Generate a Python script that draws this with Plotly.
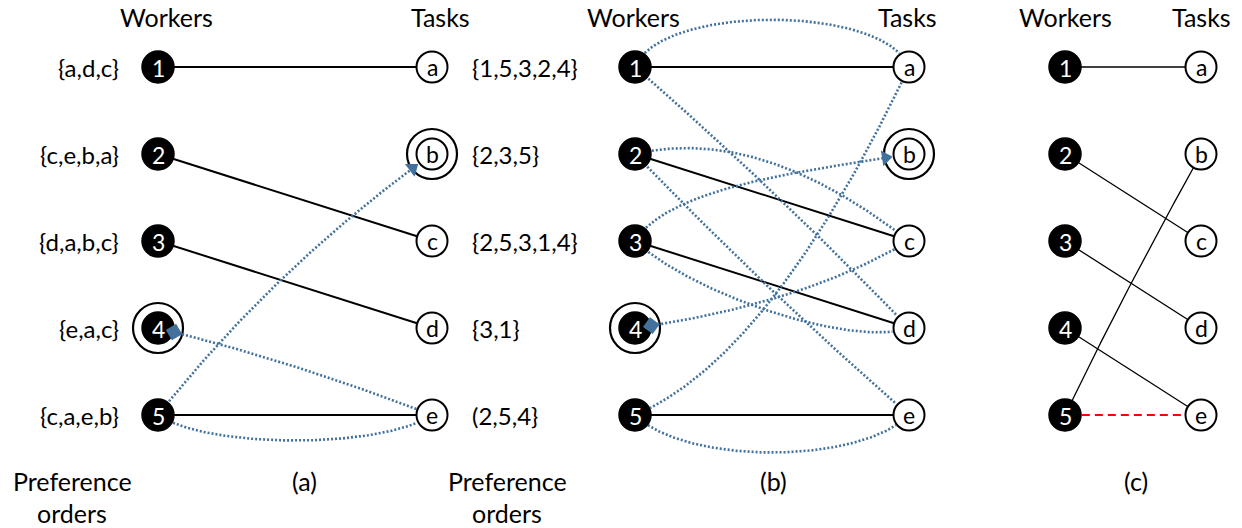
import numpy as np
import plotly.graph_objects as go

# ---------------- data ----------------
workers = ['1', '2', '3', '4', '5']
tasks = ['a', 'b', 'c', 'd', 'e']
worker_prefs = ['{a,d,c}', '{c,e,b,a}', '{d,a,b,c}', '{e,a,c}', '{c,a,e,b}']
task_prefs = ['{1,5,3,2,4}', '{2,3,5}', '{2,5,3,1,4}', '{3,1}', '(2,5,4}']
panel_labels = ['(a)', '(b)', '(c)']
header_workers = 'Workers'
header_tasks = 'Tasks'
pref_label_1 = 'Preference'
pref_label_2 = 'orders'

matching_a = [('1', 'a'), ('2', 'c'), ('3', 'd'), ('5', 'e')]
matching_b = [('1', 'a'), ('2', 'c'), ('3', 'd'), ('5', 'e')]
matching_c = [('1', 'a'), ('2', 'c'), ('3', 'd'), ('4', 'e'), ('5', 'b')]
unstable_c = [('5', 'e')]

# dotted (alternating) edges: (from, to, end marker)
dotted_a = [('5', 'b', 'arrow'), ('e', '4', 'diamond'), ('5', 'e', None)]
dotted_b = [('1', 'a', None), ('1', 'd', None), ('2', 'c', None), ('2', 'e', None),
            ('a', '5', None), ('3', 'b', 'arrow'), ('3', 'd', None),
            ('c', '4', 'diamond'), ('5', 'e', None)]
ringed_workers = ['4']
ringed_tasks = ['b']

# ---------------- geometry / style ----------------
W, H = 1242, 528
worker_x = [158, 635, 1065]
task_x = [432, 909, 1201]
row_y0, row_dy = 67, 87
R = 16.5
FONT = 'Lato'
BLUE = '#41719C'

def pos(panel, node):
    if node in workers:
        return np.array([worker_x[panel], row_y0 + row_dy * workers.index(node)], float)
    return np.array([task_x[panel], row_y0 + row_dy * tasks.index(node)], float)

# curve shapes: ('q', mid-offset) or ('c', offset from start, offset from end)
dotted_curves = {
    (0, '5', 'b'): ('q', (-20, -17)),
    (0, 'e', '4'): ('q', (-1, -10)),
    (0, '5', 'e'): ('c', (50, 34), (-50, 34)),
    (1, '1', 'a'): ('c', (25, -63), (-25, -63)),
    (1, '1', 'd'): ('q', (6, -6)),
    (1, '2', 'c'): ('q', (-12, -73)),
    (1, '2', 'e'): ('q', (-6, 6)),
    (1, 'a', '5'): ('q', (-2, 118)),
    (1, '3', 'b'): ('c', (35, -56), (-94, 16)),
    (1, '3', 'd'): ('c', (60, 55), (-55, 20)),
    (1, 'c', '4'): ('q', (30, 20)),
    (1, '5', 'e'): ('c', (50, 50), (-50, 50)),
}
solid_curves = {
    (2, '5', 'b'): ('q', (-8, 6)),
}

def bezier(p0, p3, spec, n=300):
    t = np.linspace(0, 1, n)[:, None]
    if spec is None:
        return p0 + t * (p3 - p0)
    if spec[0] == 'q':
        q = (p0 + p3) / 2 + np.array(spec[1], float)
        return (1 - t) ** 2 * p0 + 2 * (1 - t) * t * q + t ** 2 * p3
    c1 = p0 + np.array(spec[1], float)
    c2 = p3 + np.array(spec[2], float)
    return ((1 - t) ** 3 * p0 + 3 * (1 - t) ** 2 * t * c1
            + 3 * (1 - t) * t ** 2 * c2 + t ** 3 * p3)

fig = go.Figure()

def add_line(pts, color, width, dash=None):
    fig.add_trace(go.Scatter(x=pts[:, 0], y=pts[:, 1], mode='lines',
                             line=dict(color=color, width=width, dash=dash),
                             hoverinfo='skip', showlegend=False))

def curve_pts(panel, a, b, table, r0=R, r1=R):
    p0, p3 = pos(panel, a), pos(panel, b)
    pts = bezier(p0, p3, table.get((panel, a, b)))
    d0 = np.hypot(*(pts - p0).T)
    d1 = np.hypot(*(pts - p3).T)
    return pts[(d0 >= r0) & (d1 >= r1)]

# rings (outer circles) first
for p in range(2):
    ring = [pos(p, n) for n in ringed_workers + ringed_tasks]
    fig.add_trace(go.Scatter(x=[q[0] for q in ring], y=[q[1] for q in ring], mode='markers',
                             marker=dict(size=50, color='rgba(0,0,0,0)',
                                         line=dict(color='black', width=2.2)),
                             hoverinfo='skip', showlegend=False))

# solid matching edges
for p, match, lw in [(0, matching_a, 2), (1, matching_b, 2), (2, matching_c, 1.3)]:
    for a, b in match:
        add_line(curve_pts(p, a, b, solid_curves, 0, 0), 'black', lw)
for a, b in unstable_c:
    add_line(curve_pts(2, a, b, solid_curves, R, R), '#FF0000', 2, '8px,5px')

# dotted edges + end markers
ends = []
for p, edges in [(0, dotted_a), (1, dotted_b)]:
    for a, b, kind in edges:
        r1 = R + 1 if kind == 'arrow' else (R + 4 if kind == 'diamond' else R)
        pts = curve_pts(p, a, b, dotted_curves, R, r1)
        add_line(pts, BLUE, 2.6, '2px,2px')
        if kind:
            d = pts[-1] - pts[-8]
            d = d / np.hypot(*d)
            ang = np.degrees(np.arctan2(d[0], -d[1]))
            if kind == 'arrow':
                c = pts[-1] - d * 6
                ends.append((c, 'triangle-up', 14, ang))
            else:
                v = pts[-1] - pos(p, b)
                c = pos(p, b) + v / np.hypot(*v) * R
                ends.append((c, 'diamond', 13, ang))

# nodes
for p in range(3):
    wp = [pos(p, n) for n in workers]
    tp = [pos(p, n) for n in tasks]
    fig.add_trace(go.Scatter(x=[q[0] for q in wp], y=[q[1] for q in wp], mode='markers',
                             marker=dict(size=32, color='black', line=dict(color='black', width=1.5)),
                             hoverinfo='skip', showlegend=False))
    fig.add_trace(go.Scatter(x=[q[0] for q in tp], y=[q[1] for q in tp], mode='markers',
                             marker=dict(size=31, color='white', line=dict(color='black', width=2)),
                             hoverinfo='skip', showlegend=False))

for c, sym, size, ang in ends:
    fig.add_trace(go.Scatter(x=[c[0]], y=[c[1]], mode='markers',
                             marker=dict(symbol=sym, size=size, angle=ang, color=BLUE,
                                         line=dict(width=0)),
                             hoverinfo='skip', showlegend=False))

ann = []
def text(x, y, s, size, color='black', xanchor='center'):
    ann.append(dict(x=x, y=y, text=s, showarrow=False, xanchor=xanchor, yanchor='middle',
                    font=dict(family=FONT, size=size, color=color)))

for p in range(3):
    for n in workers:
        q = pos(p, n)
        text(q[0], q[1] + 1, n, 23, 'white')
    for n in tasks:
        q = pos(p, n)
        text(q[0], q[1], n, 23)

header_wx = [166, 633, 1065]
header_tx = [440, 907, 1201]
for p in range(3):
    text(header_wx[p], 17, header_workers, 25)
    text(header_tx[p], 17, header_tasks, 25)

for i in range(5):
    y = row_y0 + row_dy * i
    text(121, y, worker_prefs[i], 24, xanchor='right')
    text(470, y, task_prefs[i], 24, xanchor='left')

for x in [72, 507]:
    text(x, 481, pref_label_1, 25)
    text(x, 513, pref_label_2, 25)
for x, s in zip([304, 773, 1136], panel_labels):
    text(x, 481, s, 25)

fig.update_layout(
    width=W, height=H, margin=dict(l=0, r=0, t=0, b=0),
    paper_bgcolor='white', plot_bgcolor='white',
    xaxis=dict(range=[0, W], visible=False, fixedrange=True),
    yaxis=dict(range=[H, 0], visible=False, fixedrange=True),
    annotations=ann, showlegend=False,
)
fig.write_html('out.html', config={'displayModeBar': False},
               post_script="document.body.style.margin='0px';document.body.style.overflow='hidden';")
